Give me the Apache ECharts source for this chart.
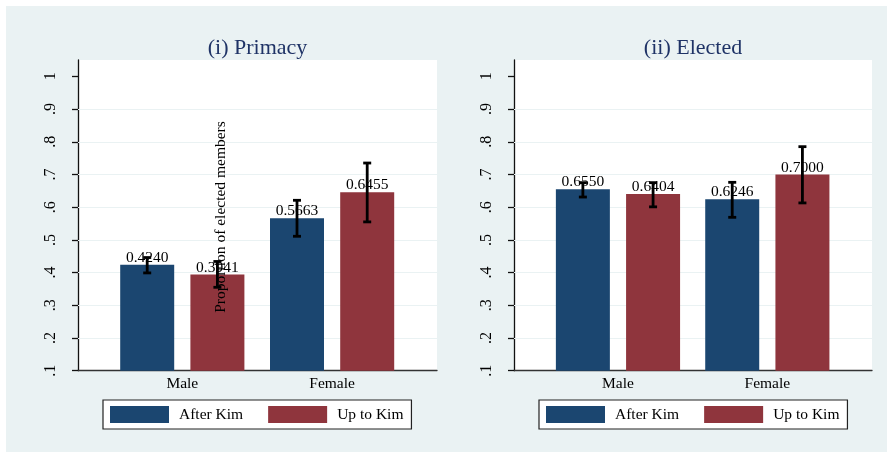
<!DOCTYPE html>
<html>
<head>
<meta charset="utf-8">
<script src="https://cdn.jsdelivr.net/npm/echarts@6.0.0/dist/echarts.min.js"></script>
<style>
  html, body { margin: 0; padding: 0; background: #fff; }
  #wrap { position: relative; width: 887px; height: 454px; }
  #bg { position: absolute; left: 6px; top: 6px; width: 881px; height: 446px; background: #EAF2F3; }
  #chart { position: absolute; left: 0; top: 0; width: 887px; height: 454px; }
</style>
</head>
<body>
<div id="wrap"><div id="bg"></div><div id="chart"></div></div>
<script>
// data
const categories = ['Male', 'Female'];
const seriesNames = ['After Kim', 'Up to Kim'];
const panelTitles = ['(i) Primacy', '(ii) Elected'];
const yTitle = 'Proportion of elected members';
const yTicks = [0.1, 0.2, 0.3, 0.4, 0.5, 0.6, 0.7, 0.8, 0.9, 1];
const gridValues = [0.2, 0.3, 0.4, 0.5, 0.6, 0.7, 0.8, 0.9];

const primacyAfter = [0.4240, 0.5663];
const primacyUpTo = [0.3941, 0.6455];
const primacyAfterLo = [0.399, 0.511];
const primacyAfterHi = [0.446, 0.621];
const primacyUpToLo = [0.355, 0.555];
const primacyUpToHi = [0.434, 0.735];

const electedAfter = [0.6550, 0.6246];
const electedUpTo = [0.6404, 0.7000];
const electedAfterLo = [0.631, 0.569];
const electedAfterHi = [0.675, 0.676];
const electedUpToLo = [0.601, 0.613];
const electedUpToHi = [0.675, 0.785];

const BLUE = '#1B4670';
const RED = '#8F353D';
const FONT = 'Liberation Serif';
const BAR_W = 54;
const BAR_GAP = 0.3;

const chart = echarts.init(document.getElementById('chart'), null, { renderer: 'canvas' });

function errRender(sign) {
  return function (params, api) {
    const c = api.value(0);
    const lo = api.coord([c, api.value(1)]);
    const hi = api.coord([c, api.value(2)]);
    const x = lo[0] + sign * (BAR_W / 2 + BAR_W * BAR_GAP / 2);
    const style = { stroke: '#000', lineWidth: 2.8 };
    return {
      type: 'group',
      children: [
        { type: 'line', shape: { x1: x, y1: lo[1], x2: x, y2: hi[1] }, style: style },
        { type: 'line', shape: { x1: x - 4, y1: lo[1], x2: x + 4, y2: lo[1] }, style: style },
        { type: 'line', shape: { x1: x - 4, y1: hi[1], x2: x + 4, y2: hi[1] }, style: style }
      ]
    };
  };
}

function ciData(lo, hi) {
  return categories.map((c, i) => [i, lo[i], hi[i]]);
}

const frameGrids = [
  { left: 78, top: 60, width: 359, height: 310.7 },
  { left: 514, top: 60, width: 358, height: 310.7 }
];
const barGrids = [
  { left: 107.4, top: 60, width: 299.6, height: 310.7 },
  { left: 543.3, top: 60, width: 298.7, height: 310.7 }
];
const legendLeft = [103, 539];

const grid = [], xAxis = [], yAxis = [], series = [], legend = [];

const panels = [
  [primacyAfter, primacyUpTo, primacyAfterLo, primacyAfterHi, primacyUpToLo, primacyUpToHi],
  [electedAfter, electedUpTo, electedAfterLo, electedAfterHi, electedUpToLo, electedUpToHi]
];

panels.forEach((p, k) => {
  const fi = k * 2, bi = k * 2 + 1;
  grid.push(Object.assign({ show: true, backgroundColor: '#fff', borderWidth: 0 }, frameGrids[k]));
  grid.push(Object.assign({}, barGrids[k]));

  xAxis.push({
    gridIndex: fi, type: 'value', min: 0, max: 1,
    axisLine: { show: true, lineStyle: { color: '#333', width: 1.3 } },
    axisTick: { show: false }, axisLabel: { show: false }, splitLine: { show: false }
  });
  xAxis.push({
    gridIndex: bi, type: 'category', data: categories,
    axisLine: { show: false }, axisTick: { show: false },
    axisLabel: { margin: 5, fontFamily: FONT, fontSize: 15.5, color: '#000' }
  });
  yAxis.push({
    gridIndex: fi, type: 'value', min: 0.1, max: 1.05,
    axisLine: { show: true, lineStyle: { color: '#111', width: 1.3 } },
    axisTick: { show: true, length: 6, customValues: yTicks, lineStyle: { color: '#111', width: 1.3 } },
    axisLabel: {
      customValues: yTicks, rotate: 90, margin: 19,
      fontFamily: FONT, fontSize: 16, color: '#000',
      formatter: v => (v >= 1 ? '1' : String(+v.toFixed(1)).replace('0.', '.'))
    },
    splitLine: { show: false }
  });
  yAxis.push({ gridIndex: bi, type: 'value', min: 0.1, max: 1.05, show: false });

  series.push({
    type: 'line', xAxisIndex: fi, yAxisIndex: fi, data: [], z: 1, silent: true,
    markLine: {
      silent: true, symbol: 'none', z: 1, label: { show: false },
      lineStyle: { color: '#EAF2F3', type: 'solid', width: 1.2 },
      data: gridValues.map(v => ({ yAxis: v }))
    }
  });

  const barLabel = {
    show: true, position: 'top', distance: -1,
    fontFamily: FONT, fontSize: 15.5, color: '#000',
    formatter: prm => prm.value.toFixed(4)
  };
  series.push({
    name: seriesNames[0], type: 'bar', xAxisIndex: bi, yAxisIndex: bi,
    data: p[0], barWidth: BAR_W, barGap: (BAR_GAP * 100) + '%', z: 10,
    itemStyle: { color: BLUE }, label: barLabel
  });
  series.push({
    name: seriesNames[1], type: 'bar', xAxisIndex: bi, yAxisIndex: bi,
    data: p[1], barWidth: BAR_W, barGap: (BAR_GAP * 100) + '%', z: 10,
    itemStyle: { color: RED }, label: barLabel
  });
  series.push({
    type: 'custom', xAxisIndex: bi, yAxisIndex: bi, z: 12, silent: true,
    renderItem: errRender(-1), data: ciData(p[2], p[3])
  });
  series.push({
    type: 'custom', xAxisIndex: bi, yAxisIndex: bi, z: 12, silent: true,
    renderItem: errRender(1), data: ciData(p[4], p[5])
  });

  legend.push({
    data: seriesNames, left: legendLeft[k], top: 400, orient: 'horizontal',
    icon: 'rect', itemWidth: 59, itemHeight: 17, itemGap: 25,
    padding: [6, 8, 6, 7], borderColor: '#222', borderWidth: 1.2,
    backgroundColor: '#fff', selectedMode: false,
    textStyle: { fontFamily: FONT, fontSize: 15.5, color: '#000', padding: [0, 0, 0, 5] }
  });
});

const option = {
  animation: false,
  backgroundColor: 'transparent',
  grid: grid,
  xAxis: xAxis,
  yAxis: yAxis,
  legend: legend,
  series: series,
  graphic: [
    {
      type: 'text', x: 257.5, y: 48,
      style: { text: panelTitles[0], fontFamily: FONT, fontSize: 22, fill: '#1f3366', textAlign: 'center', textVerticalAlign: 'middle', verticalAlign: 'middle' }
    },
    {
      type: 'text', x: 693, y: 48,
      style: { text: panelTitles[1], fontFamily: FONT, fontSize: 22, fill: '#1f3366', textAlign: 'center', textVerticalAlign: 'middle', verticalAlign: 'middle' }
    },
    {
      type: 'text', x: 221, y: 217, rotation: Math.PI / 2, z: 100,
      style: { text: yTitle, fontFamily: FONT, fontSize: 15.5, fill: '#000', textAlign: 'center', textVerticalAlign: 'middle', verticalAlign: 'middle' }
    }
  ]
};

chart.setOption(option);
</script>
</body>
</html>
